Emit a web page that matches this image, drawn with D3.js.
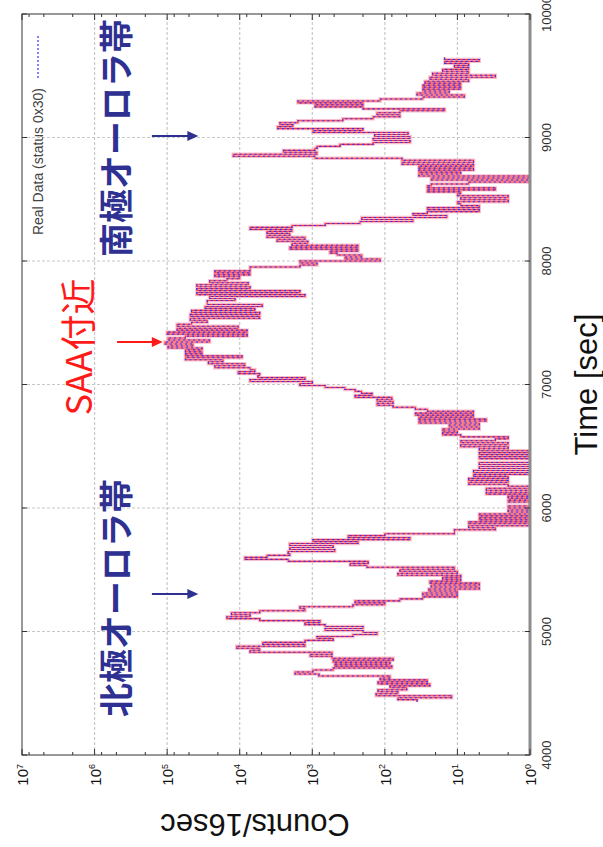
<!DOCTYPE html>
<html>
<head>
<meta charset="utf-8">
<script src="https://cdn.jsdelivr.net/npm/d3@7"></script>
<style>
  body { margin: 0; background: #fff; }
  svg { display: block; font-family: "Liberation Sans", Arial, sans-serif; }
</style>
</head>
<body>
<svg id="chart" width="603" height="847"></svg>
<script>
// counts per 16 s bin, in time order
var binStart = 4432;
var binSec = 16;

var northPass = [
  36, 66, 12, 132, 66, 124, 50, 85, 24, 124,
  26, 116, 85, 810, 1730, 980, 515, 80, 490, 85,
  515, 77, 535, 1070, 535, 7200, 5300, 11000, 1260, 4800,
  1260, 515, 860, 275, 128, 200, 665, 200, 665, 1260,
  780, 5300, 15000, 7200, 13000, 5300, 1260, 1480, 275, 100,
  257, 62, 30, 10, 30, 10, 25, 5, 23, 5,
  24, 9, 16, 9, 66, 10, 62, 11, 177, 300,
  170, 2150, 8500, 4200, 2040, 2150, 490, 2040, 515, 2040,
  234, 980, 45, 320, 100
];
var quietPass = [
  11, 11, 3, 7, 1, 7, 1, 5, 1, 5,
  1, 2, 1, 2, 1, 1, 2, 1, 2, 1,
  4, 1, 4, 1, 2, 7, 2, 7, 2, 6,
  1, 6, 1, 5, 1, 5, 1, 1, 5, 1,
  5, 1, 5, 2, 9, 2, 9, 3, 2, 9,
  16, 10, 16, 5, 13, 5, 34, 4, 34, 6,
  38, 6, 26, 38, 77, 128
];
var saaPass = [
  77, 128, 80, 257, 150, 210, 257, 355, 665, 1480,
  1000, 7200, 1260, 5600, 5300, 10500, 6200, 7200, 22000, 8500,
  27000, 17000, 56000, 9300, 56000, 33000, 56000, 33000, 97000, 44000,
  107000, 26000, 97000, 56000, 7900, 100000, 7900, 73000, 10500, 73000,
  46000, 28000, 48000, 5300, 48000, 5300, 46000, 6200, 30000, 4900,
  28000, 28000, 11600, 26000, 1260, 39000, 1480, 39000, 7200, 39000,
  7600, 26000, 15000, 10000, 22000, 7200, 22000, 7200, 7200, 1480,
  860, 1480, 116, 355, 208, 455, 570, 234, 2040, 234,
  1900, 1150, 3060, 1260, 4200, 2040, 4200, 1900, 7200, 1900,
  665
];
var southPass = [
  220, 41, 208, 14, 41, 26, 5, 26, 5, 9,
  10, 2, 9, 2, 10, 9, 26, 3, 26, 23,
  7, 1, 23, 1, 34, 9, 34, 6, 34, 6,
  58, 6, 58, 920, 12300, 860, 2500, 920, 860, 415,
  145, 45, 145, 45, 138, 48, 980, 200, 3000, 1850,
  2800, 1580, 380, 145, 62, 128, 62, 15, 200, 920,
  200, 1580, 116, 30, 8, 36, 13, 30, 9, 30,
  9, 28, 7, 24, 3, 22, 7, 16, 7, 11,
  7, 15, 5, 15
];

var timeTicks = [4000, 5000, 6000, 7000, 8000, 9000, 10000];
var countTicks = [1, 10, 100, 1000, 10000, 100000, 1000000, 10000000];
var minorSteps = [2, 5, 8];

// the figure is drawn upright and then turned a quarter turn left
var plotLeft = 22;
var plotBottom = 755;
var plotW = 741;   // time length
var plotH = 508;   // counts length

var svg = d3.select('#chart');
svg.append('rect').attr('width', 603).attr('height', 847).attr('fill', '#fff');

var g = svg.append('g')
  .attr('transform', 'translate(' + plotLeft + ',' + plotBottom + ') rotate(-90)');

var x = d3.scaleLinear().domain([4000, 10000]).range([0, plotW]);
var y = d3.scaleLog().domain([1, 1e7]).range([plotH, 0]);

g.append('clipPath').attr('id', 'plot-clip')
  .append('rect').attr('width', plotW).attr('height', plotH);

// grid
g.selectAll('.vgrid')
  .data(timeTicks.slice(1, -1))
  .enter().append('line')
  .attr('x1', function (d) { return x(d); })
  .attr('x2', function (d) { return x(d); })
  .attr('y1', 0).attr('y2', plotH)
  .attr('stroke', '#c8c8c8').attr('stroke-width', 1.2)
  .attr('stroke-dasharray', '3,2');

g.selectAll('.hgrid')
  .data(countTicks.slice(1, -1))
  .enter().append('line')
  .attr('x1', 0).attr('x2', plotW)
  .attr('y1', function (d) { return y(d); })
  .attr('y2', function (d) { return y(d); })
  .attr('stroke', '#c8c8c8').attr('stroke-width', 1.2)
  .attr('stroke-dasharray', '3,2');

// data trace
var counts = northPass.concat(quietPass, saaPass, southPass);
var trace = counts.map(function (c, i) {
  return {t: binStart + i * binSec, c: c};
});
trace.push({t: binStart + counts.length * binSec, c: counts[counts.length - 1]});

var line = d3.line()
  .x(function (d) { return x(d.t); })
  .y(function (d) { return y(d.c); })
  .curve(d3.curveStepAfter);

var traceLayer = g.append('g').attr('clip-path', 'url(#plot-clip)');
traceLayer.append('path').datum(trace)
  .attr('d', line).attr('fill', 'none')
  .attr('stroke', '#f4b4c8').attr('stroke-width', 3.4).attr('stroke-opacity', 0.85);
traceLayer.append('path').datum(trace)
  .attr('d', line).attr('fill', 'none')
  .attr('stroke', '#ff3838').attr('stroke-width', 1.1);
traceLayer.append('path').datum(trace)
  .attr('d', line).attr('fill', 'none')
  .attr('stroke', '#3030ff').attr('stroke-width', 1.1)
  .attr('stroke-dasharray', '2,3');

// frame
g.append('rect')
  .attr('width', plotW).attr('height', plotH)
  .attr('fill', 'none').attr('stroke', '#333').attr('stroke-width', 1);
g.append('line')
  .attr('x1', 0).attr('x2', plotW).attr('y1', plotH).attr('y2', plotH)
  .attr('stroke', '#8c8c8c').attr('stroke-width', 3);

// ticks
timeTicks.forEach(function (t) {
  g.append('line').attr('x1', x(t)).attr('x2', x(t))
    .attr('y1', plotH).attr('y2', plotH - 5).attr('stroke', '#333');
  g.append('line').attr('x1', x(t)).attr('x2', x(t))
    .attr('y1', 0).attr('y2', 5).attr('stroke', '#333');
});

countTicks.forEach(function (c, i) {
  g.append('line').attr('x1', 0).attr('x2', 6)
    .attr('y1', y(c)).attr('y2', y(c)).attr('stroke', '#333');
  g.append('line').attr('x1', plotW).attr('x2', plotW - 6)
    .attr('y1', y(c)).attr('y2', y(c)).attr('stroke', '#333');
  if (i < countTicks.length - 1) {
    minorSteps.forEach(function (m) {
      var v = c * m;
      g.append('line').attr('x1', 0).attr('x2', 3)
        .attr('y1', y(v)).attr('y2', y(v)).attr('stroke', '#333');
      g.append('line').attr('x1', plotW).attr('x2', plotW - 3)
        .attr('y1', y(v)).attr('y2', y(v)).attr('stroke', '#333');
    });
  }
});

// tick labels
g.selectAll('.tlabel')
  .data(timeTicks)
  .enter().append('text')
  .attr('x', function (d) { return x(d); })
  .attr('y', plotH + 16)
  .attr('dy', '0.35em')
  .attr('text-anchor', 'middle')
  .style('font-family', '"Liberation Sans Narrow", "Liberation Sans", sans-serif')
  .style('font-size', '13px')
  .attr('fill', '#333')
  .text(function (d) { return d; });

var clabels = g.selectAll('.clabel')
  .data(countTicks)
  .enter().append('text')
  .attr('x', -9)
  .attr('y', function (d) { return y(d); })
  .attr('dy', '0.4em')
  .attr('text-anchor', 'end')
  .style('font-size', '15px')
  .attr('fill', '#111');
clabels.append('tspan').text('10');
clabels.append('tspan')
  .attr('dy', '-0.6em')
  .style('font-size', '9px')
  .text(function (d) { return Math.round(Math.log10(d)); });

// axis titles
g.append('text')
  .attr('x', plotW / 2).attr('y', 564)
  .attr('dy', '0.35em')
  .attr('text-anchor', 'middle')
  .style('font-size', '31px')
  .attr('fill', '#111')
  .text('Time [sec]');

g.append('text')
  .attr('transform', 'translate(-70,' + (plotH / 2 - 21) + ') rotate(-90)')
  .attr('dy', '0.35em')
  .attr('text-anchor', 'middle')
  .style('font-size', '31px')
  .attr('fill', '#111')
  .text('Counts/16sec');

// legend
g.append('text')
  .attr('x', x(9401)).attr('y', 16)
  .attr('dy', '0.35em')
  .attr('text-anchor', 'end')
  .style('font-family', '"Liberation Sans Narrow", "Liberation Sans", sans-serif')
  .style('font-size', '14px')
  .attr('fill', '#444')
  .text('Real Data (status 0x30)');
g.append('line')
  .attr('x1', x(9482)).attr('x2', x(9830))
  .attr('y1', 16).attr('y2', 16)
  .attr('stroke', '#5a5aff').attr('stroke-width', 1.5)
  .attr('stroke-dasharray', '2,2');

// annotations
var jpFont = '"Noto Sans CJK JP", sans-serif';
var navy = '#2e3192';

function label(t, c, txt, color, size, weight) {
  g.append('text')
    .attr('x', x(t)).attr('y', y(c))
    .attr('dy', '0.36em')
    .style('font-family', jpFont)
    .style('font-size', size + 'px')
    .style('font-weight', weight)
    .attr('fill', color)
    .text(txt);
}

function arrow(t, c0, c1, color) {
  var a = g.append('g');
  var yEnd = y(c1);
  a.append('line')
    .attr('x1', x(t)).attr('x2', x(t))
    .attr('y1', y(c0)).attr('y2', yEnd - 8)
    .attr('stroke', color).attr('stroke-width', 2);
  a.append('path')
    .attr('d', 'M' + (x(t) - 5) + ',' + (yEnd - 11) + 'L' + (x(t) + 5) + ',' + (yEnd - 11) +
      'L' + x(t) + ',' + yEnd + 'Z')
    .attr('fill', color);
}

label(4308, Math.pow(10, 5.70), '北極オーロラ帯', navy, 34, 700);
label(8032, Math.pow(10, 5.70), '南極オーロラ帯', navy, 34, 700);
label(6750, Math.pow(10, 6.21), 'SAA付近', '#ff1a1a', 36, 400);

arrow(5304, Math.pow(10, 5.21), Math.pow(10, 4.57), navy);
arrow(9012, Math.pow(10, 5.21), Math.pow(10, 4.57), navy);
arrow(7344, Math.pow(10, 5.69), Math.pow(10, 5.06), '#ff1a1a');
</script>
</body>
</html>
